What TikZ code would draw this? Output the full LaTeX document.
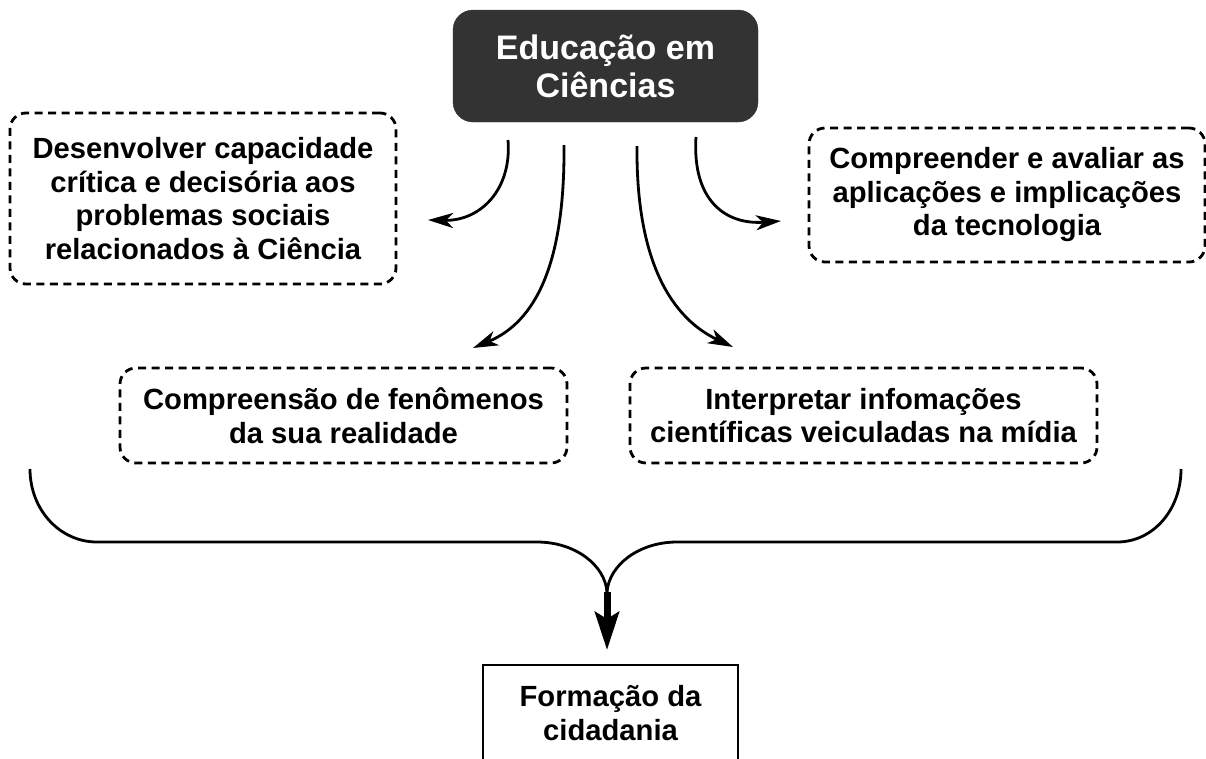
\documentclass[tikz,border=0pt]{standalone}
\usepackage{fontspec}
\setmainfont{Liberation Sans}
\usetikzlibrary{arrows.meta}
\definecolor{titlegray}{HTML}{333333}
\tikzset{
  dashbox/.style={draw=black, line width=2.8pt, dash pattern=on 8pt off 5.5pt, rounded corners=16pt,
    align=center, inner sep=0pt, font=\fontsize{29.2}{33.5}\selectfont\bfseries},
  titlebox/.style={fill=titlegray, draw=titlegray, rounded corners=20pt, text=white,
    align=center, inner sep=0pt, font=\fontsize{34}{38}\selectfont\bfseries},
  plainbox/.style={draw=black, line width=2pt, align=center, inner sep=0pt,
    font=\fontsize{29.2}{33.5}\selectfont\bfseries},
  conn/.style={line width=2.8pt, -{Stealth[length=25pt, width=15pt, inset=7pt]}},
  bracket/.style={line width=2.8pt},
}
\begin{document}
\begin{tikzpicture}[x=1pt, y=-1pt]
\useasboundingbox (0,0) rectangle (1206,758);
\clip (0,0) rectangle (1206,758);
\node[titlebox, minimum width=305pt, minimum height=112pt] (edu) at (605.5,66) {Educação em\\Ciências};
\node[dashbox, minimum width=386pt, minimum height=171pt] (des) at (203,198.5)
  {Desenvolver capacidade\\crítica e decisória aos\\problemas sociais\\relacionados à Ciência};
\node[dashbox, minimum width=396pt, minimum height=134pt] (comp) at (1007,195)
  {Compreender e avaliar as\\aplicações e implicações\\da tecnologia};
\node[dashbox, minimum width=447pt, minimum height=95pt] (fen) at (343.5,415.5)
  {Compreensão de fenômenos\\da sua realidade};
\node[dashbox, minimum width=467pt, minimum height=95pt] (inter) at (863.5,415.5)
  {Interpretar infomações\\científicas veiculadas na mídia};
\node[plainbox, minimum width=255pt, minimum height=96pt] (form) at (610.5,713)
  {Formação da\\cidadania};

% free ends of connectors
\coordinate (s1) at (508,140);
\coordinate (e1) at (428,220);
\coordinate (s2) at (564,145);
\coordinate (e2) at (473,348);
\coordinate (s3) at (637,146);
\coordinate (e3) at (733,347);
\coordinate (s4) at (696,137);
\coordinate (e4) at (781,221);

\draw[conn] (s1) .. controls (512,190) and (480,221) .. (e1);
\draw[conn] (s2) .. controls (565,265) and (535,322) .. (e2);
\draw[conn] (s3) .. controls (636,250) and (665,315) .. (e3);
\draw[conn] (s4) .. controls (692,200) and (725,225) .. (e4);

% bracket
\coordinate (bl) at (30,469);
\coordinate (br) at (1181,469);
\coordinate (join) at (607,592);
\coordinate (tip) at (607,650);
\draw[bracket] (bl) .. controls (30,510) and (60,542) .. (97,542) -- (537,542)
  .. controls (575,542) and (605,565) .. (join);
\draw[bracket] (br) .. controls (1181,510) and (1153,542) .. (1117,542) -- (677,542)
  .. controls (639,542) and (609,565) .. (join);
\draw[line width=7pt, -{Stealth[length=38pt, width=24pt, inset=7pt]}] (join) -- (tip);
\end{tikzpicture}
\end{document}
